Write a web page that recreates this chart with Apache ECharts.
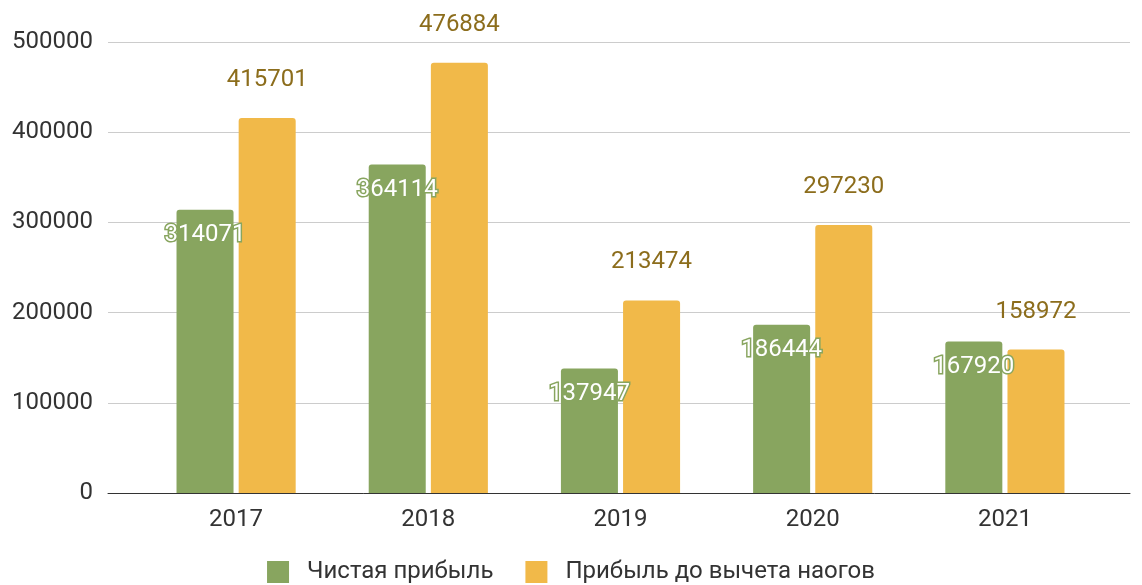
<!DOCTYPE html>
<html><head><meta charset="utf-8">
<script src="https://cdn.jsdelivr.net/npm/echarts@6/dist/echarts.min.js"></script>
<style>html,body{margin:0;padding:0;background:#fff}#c{width:1142px;height:585px}</style>
</head><body><div id="c"></div>
<script>
const categories = ['2017','2018','2019','2020','2021'];
const netProfit = [314071, 364114, 137947, 186444, 167920];
const preTaxProfit = [415701, 476884, 213474, 297230, 158972];
const seriesNames = ['Чистая прибыль', 'Прибыль до вычета наогов'];
const yTicks = [0, 100000, 200000, 300000, 400000, 500000];

const FONT = 'Roboto';
const FS = 24;
const chart = echarts.init(document.getElementById('c'));
chart.setOption({
  animation: false,
  textStyle: {fontFamily: FONT},
  grid: [
    {left: 108, right: 12, top: 42, bottom: 92},
    {left: 140, right: 41, top: 42, bottom: 92}
  ],
  legend: {
    bottom: -4, left: 'center', itemWidth: 22, itemHeight: 22, itemGap: 32,
    icon: 'rect',
    textStyle: {fontSize: FS, color: '#333', fontFamily: FONT, padding: [0, 0, 0, 13]},
    data: seriesNames
  },
  xAxis: [
    {gridIndex: 0, type: 'value', min: 0, max: 1, show: true,
     axisLine: {show: true, onZero: false, lineStyle: {color: '#333', width: 1}},
     axisTick: {show: false}, axisLabel: {show: false}, splitLine: {show: false}},
    {gridIndex: 1, type: 'category', data: categories,
     axisLine: {show: false}, axisTick: {show: false},
     axisLabel: {fontSize: FS, color: '#333', margin: 15, fontFamily: FONT}}
  ],
  yAxis: [
    {gridIndex: 0, type: 'value', min: yTicks[0], max: yTicks[yTicks.length-1], interval: yTicks[1]-yTicks[0],
     axisLine: {show: false}, axisTick: {show: false},
     axisLabel: {fontSize: FS, color: '#333', margin: 15, fontFamily: FONT, formatter: v => String(v)},
     splitLine: {lineStyle: {color: '#cccccc'}}},
    {gridIndex: 1, type: 'value', min: yTicks[0], max: yTicks[yTicks.length-1], show: false,
     splitLine: {show: false}}
  ],
  series: [
    {name: seriesNames[0], type: 'bar', xAxisIndex: 1, yAxisIndex: 1, data: netProfit,
     barGap: '9%', barCategoryGap: '38%',
     itemStyle: {color: '#88a55f', borderRadius: [3,3,0,0]},
     label: {show: true, position: 'insideTop', distance: 13, fontSize: FS, color: '#ffffff',
       textBorderColor: '#88a55f', textBorderWidth: 3, fontFamily: FONT}},
    {name: seriesNames[1], type: 'bar', xAxisIndex: 1, yAxisIndex: 1, data: preTaxProfit,
     itemStyle: {color: '#f1b949', borderRadius: [3,3,0,0]},
     label: {show: true, position: 'top', distance: 26, fontSize: FS, color: '#8c6d1c', fontFamily: FONT}}
  ]
});
</script></body></html>
